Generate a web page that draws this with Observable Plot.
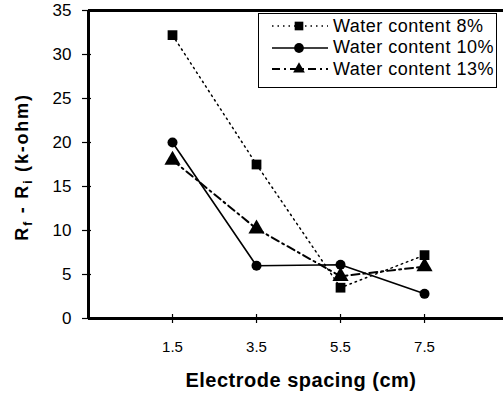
<!DOCTYPE html>
<html><head><meta charset="utf-8">
<script src="https://cdn.jsdelivr.net/npm/d3@7"></script>
<script src="https://cdn.jsdelivr.net/npm/@observablehq/plot@0.6"></script>
<style>
body{margin:0;background:#fff;}
#wrap{position:relative;width:503px;height:397px;font-family:Arial,"Liberation Sans",sans-serif;}
#legend{position:absolute;left:258px;top:13px;width:239px;height:75px;border:1px solid #000;box-sizing:border-box;background:#fff;}
</style></head>
<body><div id="wrap"><div id="legend"></div></div>
<script>
const spacing = [1.5, 3.5, 5.5, 7.5];
const series = ["Water content 8%", "Water content 10%", "Water content 13%"];
const wc8 = [32.2, 17.5, 3.5, 7.2];
const wc10 = [20.0, 6.0, 6.1, 2.8];
const wc13 = [18.0, 10.2, 4.8, 5.9];
const xTicks = [1.5, 3.5, 5.5, 7.5];
const yTicks = [0, 5, 10, 15, 20, 25, 30, 35];

const styles = {
  "Water content 8%": {dash: "1.5,4", width: 1.5, symbol: "square", r: 5.5},
  "Water content 10%": {dash: null, width: 1.6, symbol: "circle", r: 5},
  "Water content 13%": {dash: "8,4,2,4", width: 2, symbol: "triangle", r: 6}
};
const vals = [wc8, wc10, wc13];
const data = [];
series.forEach((s, i) => spacing.forEach((x, j) => data.push({series: s, x, y: vals[i][j]})));

const marks = [];
series.forEach(s => {
  const d = data.filter(p => p.series === s);
  const st = styles[s];
  marks.push(Plot.line(d, {x: "x", y: "y", stroke: "#000", strokeWidth: st.width, strokeDasharray: st.dash}));
  marks.push(Plot.dot(d, {x: "x", y: "y", fill: "#000", symbol: () => st.symbol, r: st.r}));
});

const chart = Plot.plot({
  width: 503, height: 397,
  marginLeft: 88, marginRight: 0, marginTop: 10, marginBottom: 79,
  style: {fontFamily: 'Arial, "Liberation Sans", sans-serif', background: "#fff", color: "#000"},
  x: {domain: [-0.5, 9.38]},
  y: {domain: [0, 35]},
  marks: [
    Plot.axisY({ticks: yTicks, tickSize: 0, tickPadding: 17, fontSize: 17, label: null}),
    Plot.axisY({ticks: yTicks, tickSize: 9, dx: 3, tickFormat: () => "", label: null, strokeWidth: 1.2}),
    Plot.axisX({ticks: xTicks, tickSize: 0, tickPadding: 23, fontSize: 15, label: null, tickFormat: d3.format(".1f")}),
    Plot.axisX({ticks: xTicks, tickSize: 9, dy: -4, tickFormat: () => "", label: null, strokeWidth: 1.2}),
    Plot.ruleX([-0.5], {strokeWidth: 3}),
    Plot.ruleY([0], {strokeWidth: 3}),
    Plot.ruleY([35], {strokeWidth: 3}),
    ...marks
  ]
});
document.getElementById("wrap").prepend(chart);

const svg = d3.select(chart);
svg.selectAll("text").each(function () {
  const t = this.textContent.trim();
  if (/^\d+$/.test(t)) d3.select(this).style("font-size", "17px");
  else if (/^\d\.\d$/.test(t)) d3.select(this).style("font-size", "15px");
});

const yt = svg.append("text")
  .attr("transform", "translate(28,167) rotate(-90)")
  .attr("text-anchor", "middle")
  .attr("font-weight", "bold").style("font-size", "18px").attr("fill", "#000")
  .attr("letter-spacing", 1.8);
yt.append("tspan").text("R");
yt.append("tspan").style("font-size", "12px").attr("dy", 4).text("f");
yt.append("tspan").attr("dy", -4).text(" - R");
yt.append("tspan").style("font-size", "12px").attr("dy", 4).text("i");
yt.append("tspan").attr("dy", -4).text(" (k-ohm)");

svg.append("text").attr("x", 301).attr("y", 387)
  .attr("text-anchor", "middle").attr("font-weight", "bold").style("font-size", "20px").attr("fill", "#000")
  .attr("letter-spacing", 0.5)
  .text("Electrode spacing (cm)");

// legend
const leg = d3.select("#legend");
series.forEach((s, i) => {
  const st = styles[s];
  const row = leg.append("div").style("position", "absolute").style("left", "11px").style("top", (1 + i * 21.5) + "px")
    .style("height", "22px").style("display", "flex").style("align-items", "center");
  const sv = row.append("svg").attr("width", 60).attr("height", 20);
  sv.append("line").attr("x1", 2).attr("x2", 58).attr("y1", 10).attr("y2", 10)
    .attr("stroke", "#000").attr("stroke-width", st.width).attr("stroke-dasharray", st.dash);
  sv.append("path").attr("transform", "translate(29,10)")
    .attr("d", d3.symbol(st.symbol === "square" ? d3.symbolSquare : st.symbol === "circle" ? d3.symbolCircle : d3.symbolTriangle, st.symbol === "triangle" ? 60 : 75)())
    .attr("fill", "#000");
  row.append("span").style("font-size", "18px").style("letter-spacing", "0.5px").style("margin-left", "3px").text(s);
});
</script></body></html>
